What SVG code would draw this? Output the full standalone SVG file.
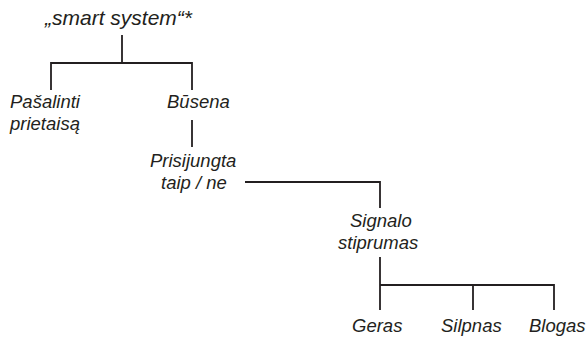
<svg xmlns="http://www.w3.org/2000/svg" width="588" height="337" viewBox="0 0 588 337">
<style>
text{font-family:"Liberation Sans",Arial,sans-serif;font-style:italic;font-size:18.5px;fill:#231f20}
.t{font-size:21px}
.c line{stroke:#231f20;stroke-width:1.8;fill:none}
</style>
<rect width="588" height="337" fill="#fff"/>
<g class="c" id="connectors">
<line x1="122" y1="35" x2="122" y2="63"/>
<line x1="51" y1="63" x2="192" y2="63"/>
<line x1="51" y1="62" x2="51" y2="90"/>
<line x1="192" y1="62" x2="192" y2="90"/>
<line x1="192" y1="120" x2="192" y2="147"/>
<line x1="245" y1="182" x2="380" y2="182"/>
<line x1="380" y1="181" x2="380" y2="208"/>
<line x1="380" y1="257" x2="380" y2="310"/>
<line x1="380" y1="285" x2="554" y2="285"/>
<line x1="473" y1="284" x2="473" y2="310"/>
<line x1="554" y1="284" x2="554" y2="310"/>
</g>
<g id="root"><text class="t" x="45" y="25">„smart system“*</text></g>
<g id="pasalinti"><text x="10" y="108">Pašalinti</text><text x="10" y="130">prietaisą</text></g>
<g id="busena"><text x="167" y="108">Būsena</text></g>
<g id="prisijungta"><text x="150" y="167">Prisijungta</text><text x="161" y="189">taip / ne</text></g>
<g id="signalo"><text x="350" y="227">Signalo</text><text x="338" y="249">stiprumas</text></g>
<g id="geras"><text x="352" y="332">Geras</text></g>
<g id="silpnas"><text x="441" y="332">Silpnas</text></g>
<g id="blogas"><text x="529" y="332">Blogas</text></g>
</svg>
